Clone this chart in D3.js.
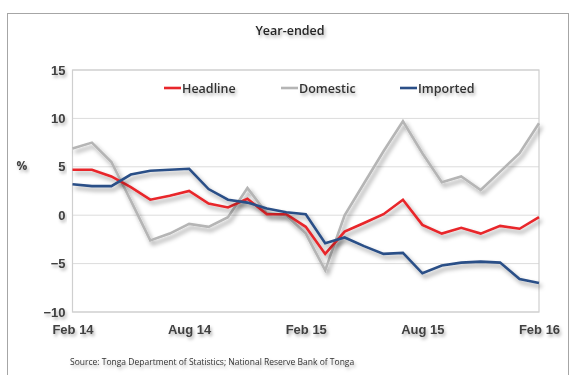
<!DOCTYPE html>
<html>
<head>
<meta charset="utf-8">
<script src="https://cdn.jsdelivr.net/npm/d3@7"></script>
<style>
  html, body { margin: 0; padding: 0; background: #fff; }
  svg { display: block; font-family: "Open Sans", "Liberation Sans", sans-serif; }
</style>
</head>
<body>
<svg id="chart" width="570" height="375"></svg>
<script>
// Monthly year-ended inflation, Feb 2014 – Feb 2016 (%)
const months = ["Feb 14","Mar 14","Apr 14","May 14","Jun 14","Jul 14","Aug 14","Sep 14","Oct 14","Nov 14","Dec 14","Jan 15",
                "Feb 15","Mar 15","Apr 15","May 15","Jun 15","Jul 15","Aug 15","Sep 15","Oct 15","Nov 15","Dec 15","Jan 16","Feb 16"];
const headline = [4.7, 4.7, 4.0, 2.9, 1.6, 2.0, 2.5, 1.2, 0.8, 1.7, 0.1, 0.1,
                  -1.2, -4.0, -1.7, -0.8, 0.1, 1.6, -1.0, -1.9, -1.3, -1.9, -1.1, -1.4, -0.2];
const domestic = [6.9, 7.5, 5.5, 1.5, -2.6, -1.9, -0.9, -1.2, -0.2, 2.8, 0.2, 0.0,
                  -1.9, -5.7, 0.0, 3.3, 6.6, 9.7, 6.4, 3.4, 4.0, 2.6, 4.5, 6.4, 9.5];
const imported = [3.2, 3.0, 3.0, 4.2, 4.6, 4.7, 4.8, 2.7, 1.6, 1.3, 0.7, 0.3,
                  0.1, -2.9, -2.3, -3.2, -4.0, -3.9, -6.0, -5.2, -4.9, -4.8, -4.9, -6.6, -7.0];
const seriesNames = ["Headline", "Domestic", "Imported"];
const seriesColors = ["#e8262b", "#b5b5b5", "#2b4f87"];
const yTicks = [-10, -5, 0, 5, 10, 15];
const xTickLabels = ["Feb 14", "Aug 14", "Feb 15", "Aug 15", "Feb 16"];

const svg = d3.select("#chart");

// soft drop shadow used by lines and text
const defs = svg.append("defs");
const sh = defs.append("filter").attr("id", "shadow")
  .attr("x", "-20%").attr("y", "-20%").attr("width", "140%").attr("height", "160%");
sh.append("feDropShadow").attr("dx", 2.5).attr("dy", 3.5).attr("stdDeviation", 2.2)
  .attr("flood-color", "#000").attr("flood-opacity", 0.38);
const tsh = defs.append("filter").attr("id", "tshadow")
  .attr("x", "-20%").attr("y", "-40%").attr("width", "140%").attr("height", "200%");
tsh.append("feDropShadow").attr("dx", 1.5).attr("dy", 2.5).attr("stdDeviation", 1.6)
  .attr("flood-color", "#000").attr("flood-opacity", 0.3);

// outer chart frame
svg.append("rect").attr("x", 7.5).attr("y", 13.5).attr("width", 561).attr("height", 370)
  .attr("fill", "#fff").attr("stroke", "#a6a6a6").attr("stroke-width", 1);

const plot = { left: 72.5, right: 539, top: 70, bottom: 312 };

const x = d3.scalePoint().domain(months).range([plot.left, plot.right]);
const y = d3.scaleLinear().domain([-10, 15]).range([plot.bottom, plot.top]);

// gridlines
svg.append("g").selectAll("line").data(yTicks).join("line")
  .attr("x1", plot.left).attr("x2", plot.right)
  .attr("y1", d => y(d)).attr("y2", d => y(d))
  .attr("stroke", "#dcdcdc").attr("stroke-width", 1);

// plot border
svg.append("rect").attr("x", plot.left).attr("y", plot.top)
  .attr("width", plot.right - plot.left).attr("height", plot.bottom - plot.top)
  .attr("fill", "none").attr("stroke", "#cfcfcf").attr("stroke-width", 1.2);

// y axis
const yAxis = svg.append("g").attr("transform", `translate(${plot.left - 7},0)`)
  .call(d3.axisLeft(y).tickValues(yTicks).tickSize(0).tickPadding(0));
yAxis.select(".domain").remove();
yAxis.selectAll("text").attr("font-size", 13).attr("font-weight", 700)
  .attr("fill", "#404040").attr("filter", "url(#tshadow)");

// x axis
const xAxis = svg.append("g").attr("transform", `translate(0,${plot.bottom + 13})`)
  .call(d3.axisBottom(x).tickValues(xTickLabels).tickSize(0).tickPadding(0));
xAxis.select(".domain").remove();
xAxis.selectAll("text").attr("font-size", 13).attr("font-weight", 700)
  .attr("fill", "#404040").attr("filter", "url(#tshadow)");

// y axis unit
svg.append("text").attr("x", 22).attr("y", 170).attr("text-anchor", "middle")
  .attr("font-size", 12).attr("font-weight", 700).attr("fill", "#404040")
  .attr("filter", "url(#tshadow)").text("%");

// title
svg.append("text").attr("x", 290).attr("y", 35).attr("text-anchor", "middle")
  .attr("font-size", 12.5).attr("font-weight", 600).attr("fill", "#262626")
  .attr("filter", "url(#tshadow)").text("Year-ended");

// series lines
const line = d3.line().x((d, i) => x(months[i])).y(d => y(d));
const data = [headline, domestic, imported];
// draw domestic first, then headline and imported on top
[1, 0, 2].forEach(k => {
  svg.append("path").datum(data[k])
    .attr("d", line).attr("fill", "none")
    .attr("stroke", seriesColors[k]).attr("stroke-width", 2.6)
    .attr("stroke-linejoin", "miter")
    .attr("filter", "url(#shadow)");
});

// legend
const legendX = [164, 281, 400];
const legend = svg.append("g");
seriesNames.forEach((name, k) => {
  const g = legend.append("g").attr("transform", `translate(${legendX[k]},88)`);
  g.append("line").attr("x1", 0).attr("x2", 17).attr("y1", 0).attr("y2", 0)
    .attr("stroke", seriesColors[k]).attr("stroke-width", 2.6);
  g.append("text").attr("x", 18).attr("y", 4.5).attr("font-size", 12.5)
    .attr("font-weight", 600).attr("fill", "#333")
    .attr("filter", "url(#tshadow)").text(name);
});

// source note
svg.append("text").attr("x", 70).attr("y", 365).attr("font-size", 8.5)
  .attr("fill", "#333").attr("filter", "url(#tshadow)")
  .text("Source: Tonga Department of Statistics; National Reserve Bank of Tonga");
</script>
</body>
</html>
